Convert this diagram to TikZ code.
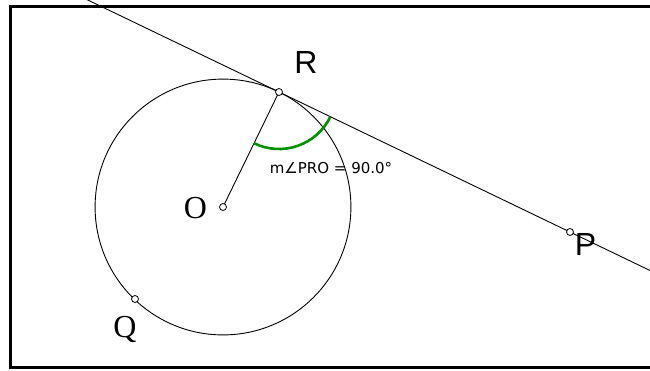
\documentclass[tikz,border=0pt]{standalone}
\usepackage{fontspec}
\setmainfont{Liberation Serif}
\setsansfont{Liberation Sans}
\newfontfamily\dejavu{DejaVu Sans}
\usetikzlibrary{calc}
\definecolor{arcgreen}{RGB}{0,145,0}
\begin{document}
\begin{tikzpicture}[x=1pt,y=-1pt,
  thinline/.style={line width=0.9pt, draw=black},
  ptmark/.style={circle, draw=black, fill=white, line width=0.8pt, inner sep=0pt, minimum size=7pt},
  sanslabel/.style={font=\sffamily\fontsize{32}{32}\selectfont, inner sep=0pt, anchor=base},
  seriflabel/.style={font=\rmfamily\fontsize{32}{32}\selectfont, inner sep=0pt, anchor=base},
  measure/.style={font=\dejavu\fontsize{15}{15}\selectfont, inner sep=0pt, anchor=base},
  anglearc/.style={line width=2.6pt, draw=arcgreen},
  frame/.style={line width=3.5pt, draw=black}
]
\useasboundingbox (0,0) rectangle (650,370);
\clip (0,0) rectangle (650,370);
\fill[white] (-5,-5) rectangle (660,380);
\coordinate (O) at (223,207);
\coordinate (R) at (279,92);
\coordinate (P) at (570,232);
\coordinate (Q) at (135,299);
\coordinate (L1) at ($(R)!-0.68!(P)$);
\coordinate (L2) at ($(R)!1.30!(P)$);
% tangent line
\draw[thinline] (L1) -- (L2);
% circle
\draw[thinline] let \p1=($(R)-(O)$), \n1={veclen(\x1,\y1)} in (O) circle[radius=\n1];
% radius OR
\draw[thinline] (O) -- (R);
% angle mark
\draw[anglearc] let \p1=($(O)-(R)$), \n1={atan2(\y1,\x1)} in
  ($(R)!57pt!(O)$) arc[start angle=\n1, delta angle=90, radius=57pt];
% points
\node[ptmark] (o) at (O) {};
\node[ptmark] (r) at (R) {};
\node[ptmark] (p) at (P) {};
\node[ptmark] (q) at (Q) {};
% labels
\node[sanslabel] (lR) at (306,73) {R};
\node[sanslabel] (lP) at (585.5,255) {P};
\node[seriflabel] (lO) at (195.5,218.5) {O};
\node[seriflabel] (lQ) at (125,337.5) {Q};
\node[measure] (lm) at (331,173) {m∠PRO = 90.0°};
% frame (open on the right)
\draw[frame] (660,6.7) -- (10.3,6.7) -- (10.3,367.5) -- (660,367.5);
\end{tikzpicture}
\end{document}
